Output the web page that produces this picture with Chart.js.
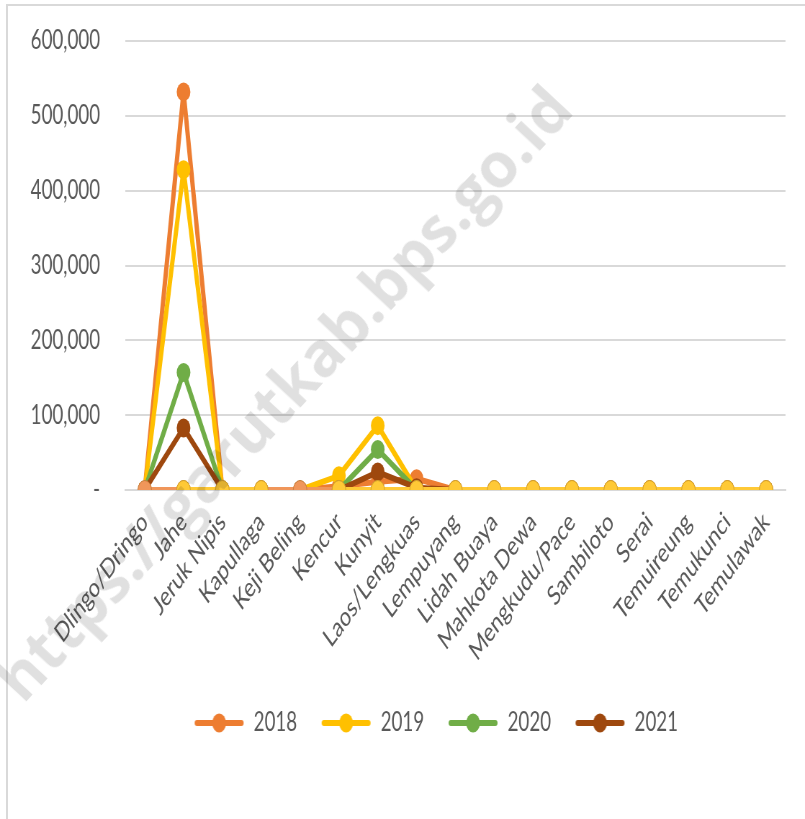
<!DOCTYPE html>
<html>
<head>
<meta charset="utf-8">
<script src="https://cdn.jsdelivr.net/npm/chart.js@4.4.1/dist/chart.umd.min.js"></script>
<style>
  html, body { margin: 0; padding: 0; background: #fff; overflow: hidden; width: 805px; height: 819px; }
  #frame {
    position: absolute; left: 6px; top: 4px; width: 805px; height: 830px;
    border-left: 2px solid #d9d9d9; border-top: 2px solid #d9d9d9;
  }
  /* the reference is squeezed sideways, so the chart is drawn wider and scaled down */
  #wrap {
    position: absolute; left: 0; top: 0; width: 1118px; height: 819px;
    transform: scaleX(0.72); transform-origin: 0 0;
  }
  #watermark {
    position: absolute; left: 282px; top: 392px;
    transform: translate(-50%, -50%) rotate(-47deg);
    font: bold 62px "Open Sans", sans-serif; color: rgba(0, 0, 0, 0.12);
    white-space: nowrap; pointer-events: none;
  }
</style>
</head>
<body>
<div id="frame"></div>
<div id="wrap"><canvas id="chart"></canvas></div>
<div id="watermark">https://garutkab.bps.go.id</div>
<script>
// data
const categories = ['Dlingo/Dringo', 'Jahe', 'Jeruk Nipis', 'Kapullaga', 'Keji Beling',
                    'Kencur', 'Kunyit', 'Laos/Lengkuas', 'Lempuyang', 'Lidah Buaya',
                    'Mahkota Dewa', 'Mengkudu/Pace', 'Sambiloto', 'Serai', 'Temuireung',
                    'Temukunci', 'Temulawak'];
const years = ['2018', '2019', '2020', '2021'];
const v2018 = [0, 532000, 0, 0, 0, 5000, 11000, 15000, 0, 0, 0, 0, 0, 0, 0, 0, 0];
const v2019 = [0, 428000, 0, 0, 0, 19000, 86000, 0, 0, 0, 0, 0, 0, 0, 0, 0, 0];
const v2020 = [0, 157000, 0, 0, 0, 0, 54000, 0, 0, 0, 0, 0, 0, 0, 0, 0, 0];
const v2021 = [0, 83000, 0, 0, 0, 0, 24000, 3000, 0, 0, 0, 0, 0, 0, 0, 0, 0];
// the two unlabeled zero rows drawn along the axis
const baseA = [0, 0, 0, 0, 0, 0, 0, 0, 0, 0, 0, 0, 0, 0, 0, 0, 0];
const baseB = [null, 0, 0, 0, null, 0, 0, 0, 0, 0, 0, 0, 0, 0, 0, 0, 0];

const colors = ['#ED7D31', '#FFC000', '#70AD47', '#9E480E'];

function legendIcon(color) {
    const c = document.createElement('canvas');
    c.width = 70; c.height = 24;
    const g = c.getContext('2d');
    g.strokeStyle = color; g.lineWidth = 6; g.lineCap = 'round';
    g.beginPath(); g.moveTo(4, 12); g.lineTo(66, 12); g.stroke();
    g.fillStyle = color;
    g.beginPath(); g.arc(35, 12, 9.5, 0, Math.PI * 2); g.fill();
    return c;
}

function series(label, data, color, order) {
    return {
        label: label, data: data, order: order,
        borderColor: color, backgroundColor: color,
        borderWidth: 6, borderJoinStyle: 'round', borderCapStyle: 'round',
        pointRadius: 9.5, pointHoverRadius: 9.5,
        pointBorderWidth: 0, tension: 0, spanGaps: false
    };
}

const allValues = [v2018, v2019, v2020, v2021];
const datasets = years.map((y, i) => series(y, allValues[i], colors[i], 5 - i));
const bA = series('', baseA, '#F0965A', 1);
bA.pointBorderWidth = 1; bA.pointBorderColor = '#C9803F';
const bB = series('', baseB, '#FFC936', 0);
bB.pointBorderWidth = 1; bB.pointBorderColor = '#D4A22A';
datasets.push(bA, bB);

// legend sits a bit right of centre in the reference
const shiftLegend = {
    id: 'shiftLegend',
    afterLayout(chart) {
        chart.legend.left += 60;
        chart.legend.right += 60;
    }
};

new Chart(document.getElementById('chart'), {
    type: 'line',
    data: { labels: categories, datasets: datasets },
    plugins: [shiftLegend],
    options: {
        responsive: true,
        maintainAspectRatio: false,
        animation: false,
        layout: { padding: { top: 41, left: 0, right: 27, bottom: 73 } },
        plugins: {
            tooltip: { enabled: false },
            legend: {
                position: 'bottom',
                labels: {
                    usePointStyle: true,
                    pointStyleWidth: 70,
                    padding: 33,
                    color: '#595959',
                    font: { family: 'Lato', size: 26 },
                    generateLabels: chart => years.map((y, i) => ({
                        text: y, datasetIndex: i, pointStyle: legendIcon(colors[i]),
                        fontColor: '#595959', hidden: false, lineWidth: 0,
                        strokeStyle: 'transparent', fillStyle: colors[i]
                    }))
                }
            }
        },
        scales: {
            x: {
                offset: true,
                grid: { display: false },
                border: { color: '#d9d9d9', width: 2 },
                afterFit: axis => { axis.height = 187; },
                ticks: {
                    autoSkip: false, minRotation: 45, maxRotation: 45,
                    color: '#595959', padding: 8,
                    font: { family: 'Lato', size: 27 }
                }
            },
            y: {
                min: 0, max: 600000,
                afterFit: axis => {
                    axis.width = 174;
                    axis.paddingTop = 0;
                    axis.paddingBottom = 0;
                },
                border: { display: false },
                grid: { color: '#d9d9d9', lineWidth: 2, drawTicks: false },
                ticks: {
                    stepSize: 100000,
                    color: '#595959', padding: 35,
                    font: { family: 'Lato', size: 26 },
                    callback: function(value) {
                        return value === 0 ? '-' : value.toLocaleString('en-US');
                    }
                }
            }
        }
    }
});
</script>
</body>
</html>
